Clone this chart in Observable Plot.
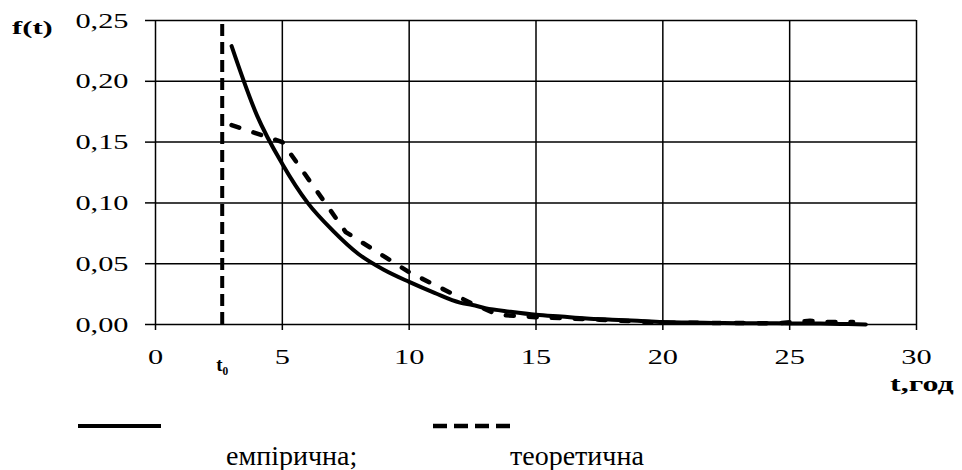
<!DOCTYPE html>
<html>
<head>
<meta charset="utf-8">
<script src="https://cdn.jsdelivr.net/npm/d3@7"></script>
<script src="https://cdn.jsdelivr.net/npm/@observablehq/plot@0.6"></script>
<style>
  body { margin: 0; background: #fff; }
  #wrap { position: relative; width: 962px; height: 470px; overflow: hidden; background: #fff;
          font-family: "Liberation Serif", "Times New Roman", serif; color: #000; }
  #chart svg { display: block; }
  .lab { position: absolute; line-height: 1; white-space: nowrap; transform-origin: 0 0; }
  #ft { left: 12px; top: 19px; font-size: 18px; font-weight: bold; transform: scaleX(1.7); }
  #tg { left: 890px; top: 374px; font-size: 20px; font-weight: bold; transform: scaleX(1.6); }
  .leg { position: absolute; font-size: 28px; line-height: 1; white-space: nowrap; }
  .sw { position: absolute; }
</style>
</head>
<body>
<div id="wrap">
  <div id="chart"></div>
  <div class="lab" id="ft">f(t)</div>
  <div class="lab" id="tg">t,год</div>
  <svg class="sw" style="left:78px;top:420px" width="90" height="12"><line x1="0" x2="83" y1="6" y2="6" stroke="#000" stroke-width="4"/></svg>
  <svg class="sw" style="left:433px;top:420px" width="90" height="12"><line x1="0" x2="77" y1="6" y2="6" stroke="#000" stroke-width="4.5" stroke-dasharray="14,7"/></svg>
  <div class="leg" id="l1" style="left:226px;top:442px">емпірична;</div>
  <div class="leg" id="l2" style="left:510px;top:442px">теоретична</div>
</div>
<script>
// ---- data ----
const xTicks = [0, 5, 10, 15, 20, 25, 30];
const yTicks = [0, 0.05, 0.10, 0.15, 0.20, 0.25];
const t0 = 2.63;
const t0Label = "t₀";

// empirical density (solid)
const empT = [3, 4, 5, 6, 7, 8, 9, 10, 11, 12, 12.5, 13, 14, 15, 16, 17, 18, 19, 20, 21, 22, 23, 24, 25, 26, 27, 28];
const empF = [0.229, 0.172, 0.132, 0.100, 0.077, 0.058, 0.045, 0.035, 0.026, 0.018, 0.016, 0.0135, 0.0105, 0.008, 0.0065, 0.005, 0.004, 0.003, 0.002, 0.0016, 0.0013, 0.0011, 0.001, 0.0009, 0.0008, 0.0005, 0.0001];

// theoretical density (dashed)
const theoT = [3, 5, 7.5, 10, 12.5, 13.5, 15, 17.5, 20, 24.5, 25.8, 26.5, 27.5];
const theoF = [0.164, 0.150, 0.076, 0.043, 0.017, 0.008, 0.006, 0.004, 0.0015, 0.001, 0.003, 0.002, 0.002];

const emp = empT.map((t, i) => ({t, f: empF[i]}));
const theo = theoT.map((t, i) => ({t, f: theoF[i]}));
const fmtY = d => d.toFixed(2).replace(".", ",");

const chart = Plot.plot({
  width: 962,
  height: 376,
  marginLeft: 155,
  marginRight: 46,
  marginTop: 20,
  marginBottom: 52,
  x: {domain: [0, 30]},
  y: {domain: [0, 0.25]},
  style: {fontFamily: "'Liberation Serif', 'Times New Roman', serif", color: "#000", background: "#fff"},
  marks: [
    Plot.gridX(xTicks, {stroke: "#000", strokeOpacity: 1, strokeWidth: 1.5}),
    Plot.gridY(yTicks, {stroke: "#000", strokeOpacity: 1, strokeWidth: 1.5}),
    Plot.axisX(xTicks, {tickSize: 6, tickPadding: 18, label: null, fontSize: 22, tickFormat: d => String(d), strokeWidth: 1.5}),
    Plot.axisY(yTicks, {tickSize: 10, tickPadding: 17, label: null, fontSize: 22, tickFormat: fmtY, strokeWidth: 1.5}),
    Plot.ruleX([t0], {y1: 0, y2: 0.25, stroke: "#000", strokeWidth: 4, strokeDasharray: "12,6"}),
    Plot.line(theo, {x: "t", y: "f", stroke: "#000", strokeWidth: 4.5, strokeDasharray: "8,15"}),
    Plot.line(emp, {x: "t", y: "f", stroke: "#000", strokeWidth: 4, curve: "monotone-x"}),
    Plot.text([t0Label], {x: () => t0, text: d => d, frameAnchor: "bottom", lineAnchor: "top", dy: 33, fontSize: 19, fontWeight: "bold"})
  ]
});

// stretch tick labels horizontally like the original (wide serif digits)
d3.select(chart).selectAll('g[aria-label="x-axis tick label"] text, g[aria-label="y-axis tick label"] text')
  .attr("transform", function () { return (this.getAttribute("transform") || "") + " scale(1.38,1)"; });

document.getElementById("chart").append(chart);
</script>
</body>
</html>
